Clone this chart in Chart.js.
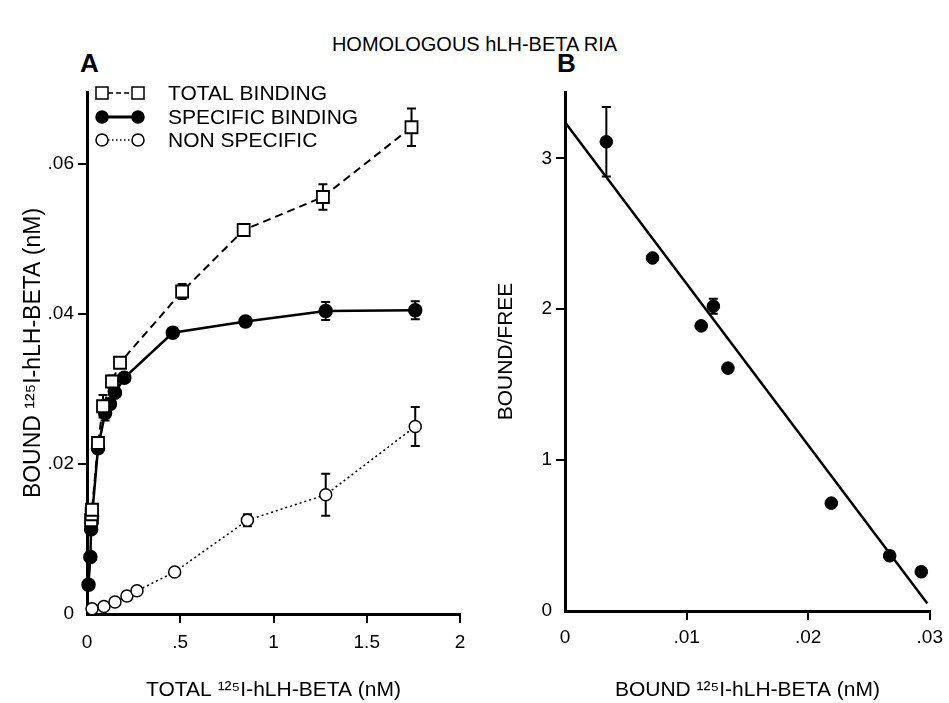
<!DOCTYPE html>
<html>
<head>
<meta charset="utf-8">
<script src="https://cdn.jsdelivr.net/npm/chart.js@4.4.1/dist/chart.umd.min.js"></script>
<style>
  body { margin: 0; background: #fff; }
  #page { position: relative; width: 949px; height: 703px; overflow: hidden; background: #fff; font-family: 'Liberation Sans', Arial, sans-serif; color: #000; }
  #main-title { position: absolute; top: 33px; left: 0; width: 949px; text-align: center; font-size: 20px; }
  .panel-label { position: absolute; top: 48px; font-size: 26px; font-weight: bold; }
  canvas { position: absolute; top: 0; }
</style>
</head>
<body>
<div id="page">
  <div id="main-title">HOMOLOGOUS hLH-BETA RIA</div>
  <div class="panel-label" style="left:80px">A</div>
  <div class="panel-label" style="left:557px">B</div>
  <canvas id="chart-a" width="480" height="703" style="left:0"></canvas>
  <canvas id="chart-b" width="469" height="703" style="left:480px"></canvas>
</div>
<script>
// PANEL A - saturation curves
const totalX   = [0.022, 0.025, 0.027, 0.059, 0.086, 0.134, 0.177, 0.51, 0.84, 1.265, 1.74];
const totalY   = [0.0125, 0.0133, 0.0139, 0.0228, 0.0277, 0.031, 0.0335, 0.043, 0.0512, 0.0556, 0.0649];
const totalErr = [0, 0, 0, 0, 0.0015, 0.0008, 0, 0.001, 0, 0.0017, 0.0025];

const specX   = [0.008, 0.018, 0.022, 0.025, 0.027, 0.059, 0.097, 0.123, 0.15, 0.20, 0.46, 0.85, 1.28, 1.76];
const specY   = [0.0039, 0.0076, 0.0113, 0.0122, 0.013, 0.0221, 0.0268, 0.028, 0.0295, 0.0315, 0.0375, 0.039, 0.0404, 0.0405];
const specErr = [0, 0, 0, 0, 0, 0, 0.001, 0, 0, 0, 0, 0, 0.0012, 0.0012];

const nonX   = [0.027, 0.091, 0.15, 0.214, 0.268, 0.47, 0.86, 1.28, 1.76];
const nonY   = [0.0007, 0.001, 0.0016, 0.0024, 0.0031, 0.0056, 0.0125, 0.0159, 0.025];
const nonErr = [0, 0, 0, 0, 0, 0, 0.0008, 0.0028, 0.0026];

const aTicksX = [0, 0.5, 1, 1.5, 2];
const aTicksY = [0, 0.02, 0.04, 0.06];

// PANEL B - Scatchard plot
const scatX   = [0.0034, 0.0072, 0.0112, 0.0122, 0.0134, 0.0219, 0.0267, 0.0293];
const scatY   = [3.11, 2.34, 1.89, 2.02, 1.61, 0.715, 0.366, 0.26];
const scatErr = [0.23, 0, 0, 0.05, 0, 0, 0, 0];
const fitX = [0, 0.0298];
const fitY = [3.24, 0.05];

const bTicksX = [0, 0.01, 0.02, 0.03];
const bTicksY = [0, 1, 2, 3];

const FONT = "'Liberation Sans', Arial, sans-serif";

function pts(xs, ys) {
    return xs.map((x, i) => ({x: x, y: ys[i]}));
}

// strip the leading zero like ".06"
function shortNum(v) {
    if (v === 0) return '0';
    return String(v).replace(/^0\./, '.');
}

// error bars, drawn before the markers so hollow symbols cover them
const errorBars = {
    id: 'errorBars',
    beforeDatasetsDraw(chart) {
        const ctx = chart.ctx;
        const yScale = chart.scales.y;
        ctx.save();
        ctx.strokeStyle = '#000';
        ctx.lineWidth = 2;
        chart.data.datasets.forEach((ds, i) => {
            if (!ds.errs) return;
            const meta = chart.getDatasetMeta(i);
            meta.data.forEach((pt, j) => {
                const e = ds.errs[j];
                if (!e) return;
                const v = ds.data[j].y;
                const top = yScale.getPixelForValue(v + e);
                const bot = yScale.getPixelForValue(v - e);
                ctx.beginPath();
                ctx.moveTo(pt.x, top); ctx.lineTo(pt.x, bot);
                ctx.moveTo(pt.x - 4.5, top); ctx.lineTo(pt.x + 4.5, top);
                ctx.moveTo(pt.x - 4.5, bot); ctx.lineTo(pt.x + 4.5, bot);
                ctx.stroke();
            });
        });
        ctx.restore();
    }
};

// legend of panel A: marker - line - marker, then the label
const legendA = {
    id: 'legendA',
    afterDraw(chart) {
        const ctx = chart.ctx;
        const rows = [
            {y: 93,  text: 'TOTAL BINDING',    shape: 'rect',   fill: '#fff', dash: [5, 3]},
            {y: 117, text: 'SPECIFIC BINDING', shape: 'circle', fill: '#000', dash: []},
            {y: 140, text: 'NON SPECIFIC',     shape: 'circle', fill: '#fff', dash: [1.5, 2.5]}
        ];
        ctx.save();
        rows.forEach(r => {
            ctx.strokeStyle = '#000';
            ctx.lineWidth = r.fill === '#000' ? 3 : 1.5;
            ctx.setLineDash(r.dash);
            ctx.beginPath();
            ctx.moveTo(108, r.y); ctx.lineTo(132, r.y);
            ctx.stroke();
            ctx.setLineDash([]);
            ctx.lineWidth = 1.5;
            [102, 138].forEach(cx => {
                ctx.beginPath();
                if (r.shape === 'rect') ctx.rect(cx - 6, r.y - 6, 12, 12);
                else ctx.arc(cx, r.y, 6, 0, Math.PI * 2);
                ctx.fillStyle = r.fill;
                ctx.fill();
                ctx.stroke();
            });
            ctx.fillStyle = '#000';
            ctx.font = '21px ' + FONT;
            ctx.textBaseline = 'middle';
            ctx.fillText(r.text, 168, r.y + 1);
        });
        ctx.restore();
    }
};

function axisStyle(extra) {
    return Object.assign({
        type: 'linear',
        border: {display: true, color: '#000', width: 3},
        grid: {
            display: true,
            drawOnChartArea: false,
            drawTicks: true,
            tickLength: 9,
            lineWidth: 2,
            color: c => (c.tick && c.tick.value === 0) ? 'rgba(0,0,0,0)' : '#000'
        }
    }, extra);
}

var chartA;
function loadChartA() {
    var context = document.getElementById('chart-a').getContext('2d');
    chartA = new Chart(context, {
        type: 'line',
        data: {
            datasets: [{
                label: 'TOTAL BINDING',
                data: pts(totalX, totalY),
                errs: totalErr,
                borderColor: '#000',
                borderWidth: 2,
                borderDash: [8, 5],
                pointStyle: 'rect',
                pointRadius: 8.5,
                pointBorderWidth: 1.8,
                pointBackgroundColor: '#fff',
                pointBorderColor: '#000',
                clip: 10
            }, {
                label: 'SPECIFIC BINDING',
                data: pts(specX, specY),
                errs: specErr,
                borderColor: '#000',
                borderWidth: 2.5,
                pointRadius: 6,
                pointBackgroundColor: '#000',
                pointBorderColor: '#000',
                clip: 10
            }, {
                label: 'NON SPECIFIC',
                data: pts(nonX, nonY),
                errs: nonErr,
                borderColor: '#000',
                borderWidth: 1.5,
                borderDash: [2, 3],
                pointRadius: 6,
                pointBorderWidth: 1.5,
                pointBackgroundColor: '#fff',
                pointBorderColor: '#000',
                clip: 10
            }]
        },
        options: {
            responsive: false,
            animation: false,
            layout: {padding: {top: 92, right: 20, left: 0, bottom: 0}},
            plugins: {legend: {display: false}, tooltip: {enabled: false}},
            scales: {
                x: axisStyle({
                    min: 0, max: 2,
                    afterBuildTicks: s => { s.ticks = aTicksX.map(v => ({value: v})); },
                    afterFit: s => { s.height = 89; },
                    ticks: {color: '#000', padding: 8, font: {family: FONT, size: 19}, callback: shortNum},
                    title: {display: true, text: 'TOTAL ¹²⁵I-hLH-BETA (nM)', color: '#000',
                            font: {family: FONT, size: 21}, padding: {bottom: 0}}
                }),
                y: axisStyle({
                    min: 0, max: 0.0696,
                    afterBuildTicks: s => { s.ticks = aTicksY.map(v => ({value: v})); },
                    afterFit: s => { s.width = 87; },
                    ticks: {color: '#000', padding: 4, font: {family: FONT, size: 19}, callback: shortNum},
                    title: {display: true, text: 'BOUND ¹²⁵I-hLH-BETA (nM)', color: '#000',
                            font: {family: FONT, size: 23}, padding: {top: 20}}
                })
            }
        },
        plugins: [errorBars, legendA]
    });
}

var chartB;
function loadChartB() {
    var context = document.getElementById('chart-b').getContext('2d');
    chartB = new Chart(context, {
        type: 'scatter',
        data: {
            datasets: [{
                label: 'BOUND/FREE',
                data: pts(scatX, scatY),
                errs: scatErr,
                pointRadius: 6.3,
                pointBackgroundColor: '#000',
                pointBorderColor: '#000',
                clip: 10
            }, {
                type: 'line',
                label: 'fit',
                data: pts(fitX, fitY),
                borderColor: '#000',
                borderWidth: 2.5,
                pointRadius: 0,
                clip: 10
            }]
        },
        options: {
            responsive: false,
            animation: false,
            layout: {padding: {top: 92, right: 12, left: 0, bottom: 0}},
            plugins: {legend: {display: false}, tooltip: {enabled: false}},
            scales: {
                x: axisStyle({
                    min: 0, max: 0.03,
                    afterBuildTicks: s => { s.ticks = bTicksX.map(v => ({value: v})); },
                    afterFit: s => { s.height = 92; },
                    ticks: {color: '#000', padding: 6, font: {family: FONT, size: 19}, callback: shortNum},
                    title: {display: true, text: 'BOUND ¹²⁵I-hLH-BETA (nM)', color: '#000',
                            font: {family: FONT, size: 21}, padding: {bottom: 0}}
                }),
                y: axisStyle({
                    min: 0, max: 3.44,
                    afterBuildTicks: s => { s.ticks = bTicksY.map(v => ({value: v})); },
                    afterFit: s => { s.width = 85; },
                    ticks: {color: '#000', padding: 4, font: {family: FONT, size: 19}, callback: shortNum},
                    title: {display: true, text: 'BOUND/FREE', color: '#000',
                            font: {family: FONT, size: 21}, padding: {top: 14}}
                })
            }
        },
        plugins: [errorBars]
    });
}

loadChartA();
loadChartB();
</script>
</body>
</html>
